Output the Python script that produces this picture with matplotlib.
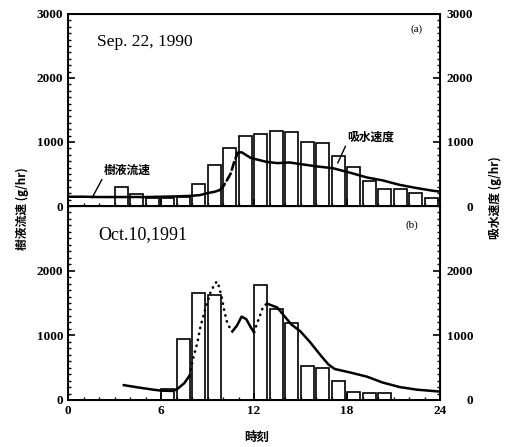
import numpy as np
import matplotlib
matplotlib.use("Agg")
import matplotlib.pyplot as plt
from matplotlib.ticker import MultipleLocator

# (a) Sep. 22, 1990 -- hourly water uptake (bars) and sap flow (line)
bar_hours_a = list(range(3, 24))
uptake_a = [300, 190, 130, 130, 140, 340, 640, 910, 1100, 1125, 1170,
            1155, 1000, 990, 780, 610, 390, 265, 265, 200, 125]

sap_hours_a = [0, 1, 2, 3, 4, 5, 6, 7, 8, 8.5, 9, 9.5, 9.8, 10, 10.25,
               10.5, 10.75, 10.95, 11.2, 11.8, 12.8, 13.5, 14.3, 15, 16,
               17.1, 18.2, 19.3, 20.3, 21.4, 22.5, 23.5, 24]
sap_a = [145, 145, 140, 140, 140, 140, 145, 150, 160, 170, 200, 225, 250,
         300, 400, 510, 710, 830, 840, 750, 690, 670, 680, 655, 620,
         590, 520, 445, 400, 330, 280, 240, 225]
dashed_a = [(9.8, 10.95)]

# (b) Oct. 10, 1991
bar_hours_b = [6, 7, 8, 9, 12, 13, 14, 15, 16, 17, 18, 19, 20]
uptake_b = [170, 940, 1660, 1630, 1780, 1400, 1190, 520, 500, 300, 125, 115, 110]

sap_hours_b = [3.6, 4.5, 5.5, 6, 6.8, 7.1, 7.5, 7.85, 8.1, 8.35, 8.55, 8.85,
               9.2, 9.5, 9.65, 9.9, 10.1, 10.3, 10.6, 10.9, 11.2, 11.5, 11.8,
               12.0, 12.3, 12.6, 12.85, 13.5, 13.95, 14.4, 15.0, 15.6, 16.3,
               16.8, 17.2, 18.3, 19.3, 20.3, 21.4, 22.5, 23.5, 24]
sap_b = [230, 195, 160, 145, 140, 180, 260, 380, 670, 890, 1140, 1400,
         1670, 1810, 1830, 1610, 1360, 1170, 1060, 1150, 1290, 1250, 1120,
         1050, 1250, 1450, 1490, 1430, 1300, 1170, 1060, 900, 690,
         550, 480, 420, 360, 270, 200, 160, 140, 130]
dotted_b = [(7.85, 10.6), (12.0, 12.85)]

tick_font = dict(family="Liberation Serif", weight="bold", size=9.5)
jp = ["Noto Sans CJK JP", "DejaVu Sans"]

fig = plt.figure(figsize=(5.08, 4.47), dpi=100)
ax_a = fig.add_axes([68 / 508, 1 - 206 / 447, 372 / 508, 192 / 447])
ax_b = fig.add_axes([68 / 508, 1 - 400 / 447, 372 / 508, 194 / 447])


def draw_sap(ax, hours, vals, broken, style):
    h = np.array(hours, dtype=float)
    v = np.array(vals, dtype=float)
    solid = v.copy()
    for a, b in broken:
        solid[(h > a) & (h < b)] = np.nan
        part = np.where((h >= a) & (h <= b), v, np.nan)
        ax.plot(h, part, color="black", lw=1.9, linestyle=style,
                dash_capstyle="round")
    ax.plot(h, solid, color="black", lw=1.8)


for ax, bh, bv in [(ax_a, bar_hours_a, uptake_a), (ax_b, bar_hours_b, uptake_b)]:
    ax.bar(np.array(bh) + 0.03, bv, width=0.83, align="edge",
           facecolor="white", edgecolor="black", linewidth=1.2)
    ax.set_xlim(0, 24)
    ax.set_ylim(0, 3000)
    ax.xaxis.set_major_locator(MultipleLocator(6))
    ax.xaxis.set_minor_locator(MultipleLocator(1))
    ax.yaxis.set_major_locator(MultipleLocator(1000))
    ax.yaxis.set_minor_locator(MultipleLocator(100))
    ax.tick_params(which="both", direction="in", top=False)
    ax.tick_params(which="major", length=5, width=1.2)
    ax.tick_params(which="minor", length=2.5, width=1)
    for s in ax.spines.values():
        s.set_linewidth(1.4)
    ax2 = ax.twinx()
    ax2.set_ylim(0, 3000)
    ax2.yaxis.set_major_locator(MultipleLocator(1000))
    ax2.yaxis.set_minor_locator(MultipleLocator(100))
    ax2.tick_params(which="both", direction="in", pad=24)
    ax2.tick_params(which="major", length=5, width=1.2)
    ax2.tick_params(which="minor", length=2.5, width=1)
    if ax is ax_b:
        ax.set_yticks([0, 1000, 2000])
        ax2.set_yticks([0, 1000, 2000])
    for lab in ax2.get_yticklabels():
        lab.set_ha("right")
        lab.set_fontproperties(tick_font)
    for lab in ax.get_yticklabels() + ax.get_xticklabels():
        lab.set_fontproperties(tick_font)

draw_sap(ax_a, sap_hours_a, sap_a, dashed_a, (0, (3, 1.5)))
draw_sap(ax_b, sap_hours_b, sap_b, dotted_b, (0, (0.1, 2.2)))

ax_a.set_xticklabels([])
ax_b.set_xticks([0, 6, 12, 18, 24])
ax_b.set_xticklabels(["0", "6", "12", "18", "24"], fontdict=tick_font)

ax_a.text(1.87, 2560, "Sep. 22, 1990", family="Liberation Serif", fontsize=12.5,
          ha="left", va="center")
ax_b.text(1.94, 2565, "Oct.10,1991", family="Liberation Serif", fontsize=13,
          ha="left", va="center")
ax_a.text(22.5, 2770, "(a)", family="Liberation Serif", fontsize=8, ha="center", va="center")
ax_b.text(22.2, 2700, "(b)", family="Liberation Serif", fontsize=8, ha="center", va="center")

ax_a.annotate("樹液流速", xy=(1.55, 125), xytext=(3.8, 560), family=jp,
              weight="bold", fontsize=8.5, ha="center", va="center",
              arrowprops=dict(arrowstyle="-", lw=1, relpos=(0, 0),
                              shrinkA=0, shrinkB=0))
ax_a.annotate("吸水速度", xy=(17.4, 670), xytext=(19.5, 1080), family=jp,
              weight="bold", fontsize=8.5, ha="center", va="center",
              arrowprops=dict(arrowstyle="-", lw=1, relpos=(0, 0),
                              shrinkA=0, shrinkB=0))

fig.text(22 / 508, 1 - 209 / 447, "樹液流速 (g/hr)", rotation=90, family=jp,
         weight="bold", fontsize=8.5, ha="center", va="center")
fig.text(495 / 508, 1 - 198 / 447, "吸水速度 (g/hr)", rotation=90, family=jp,
         weight="bold", fontsize=8.5, ha="center", va="center")
fig.text(257 / 508, 1 - 437 / 447, "時刻", family=jp, weight="bold",
         fontsize=9, ha="center", va="center")

fig.savefig("out.png", dpi=100)
